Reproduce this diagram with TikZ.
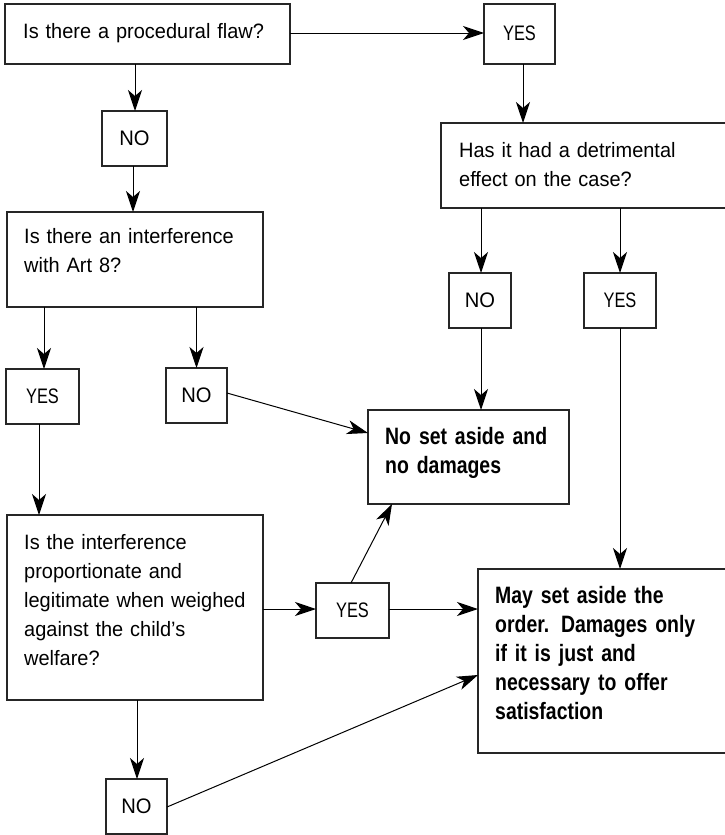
\documentclass[tikz,border=0pt]{standalone}
\usepackage{fontspec}
\setmainfont{Liberation Sans}
\newfontfamily\regcond[FakeStretch=0.96]{Liberation Sans}
\newfontfamily\capcond[FakeStretch=0.78]{Liberation Sans}
\newfontfamily\bfcond[FakeStretch=0.82]{Liberation Sans}
\usetikzlibrary{arrows.meta,calc}
\tikzset{
  box/.style={draw=black!85, line width=1.2pt, inner sep=0pt, outer sep=0pt},
  ylbl/.style={inner sep=0pt, font=\capcond\fontsize{21}{29}\selectfont},
  nlbl/.style={inner sep=0pt, font=\regcond\fontsize{21}{29}\selectfont},
  txt/.style={inner sep=0pt, anchor=base west, align=left, text width=250pt, font=\regcond\fontsize{20.8}{29}\selectfont},
  btxt/.style={inner sep=0pt, anchor=base west, align=left, text width=230pt, font=\bfcond\bfseries\fontsize{23.7}{29.2}\selectfont},
  arr/.style={line width=1pt, -{Stealth[length=21pt, width=14pt, inset=6pt]}}
}
\newcommand{\up}[1]{\raisebox{1.5pt}{#1}}
\begin{document}
\begin{tikzpicture}[x=1pt,y=-1pt]
\useasboundingbox (0,0) rectangle (724,835);
% boxes
\node[box, minimum width=285pt, minimum height=60pt] (A) at (147.5,34) {};
\node[box, ylbl, minimum width=71pt, minimum height=60pt] (Y1) at (519.5,34) {\up{YES}};
\node[box, nlbl, minimum width=65pt, minimum height=55pt] (N1) at (134.5,138.5) {NO};
\node[box, minimum width=256pt, minimum height=95pt] (B) at (135,259.5) {};
\node[box, minimum width=285pt, minimum height=85pt] (D) at (583.5,165.5) {};
\node[box, ylbl, minimum width=73pt, minimum height=55pt] (Y2) at (42.5,396.5) {\up{YES}};
\node[box, nlbl, minimum width=61pt, minimum height=55pt] (N2) at (196.5,395.5) {NO};
\node[box, nlbl, minimum width=62pt, minimum height=55pt] (N4) at (480,300.5) {NO};
\node[box, ylbl, minimum width=72pt, minimum height=55pt] (Y4) at (620,300.5) {\up{YES}};
\node[box, minimum width=201pt, minimum height=94pt] (E) at (468.5,457) {};
\node[box, minimum width=256pt, minimum height=185pt] (C) at (135,607.5) {};
\node[box, ylbl, minimum width=73pt, minimum height=55pt] (Y3) at (352.5,610.5) {\up{YES}};
\node[box, minimum width=248pt, minimum height=184pt] (F) at (602,661) {};
\node[box, nlbl, minimum width=61pt, minimum height=55pt] (N3) at (136.5,806.5) {NO};
% texts
\node[txt] (At) at ($(A.north west)+(18,34)$) {Is there a procedural flaw?};
\node[txt] (Bt) at ($(B.north west)+(17,31)$) {Is there an interference\\with Art 8?};
\node[txt] (Dt) at ($(D.north west)+(18,34)$) {Has it had a detrimental\\effect on the case?};
\node[btxt] (Et) at ($(E.north west)+(17,34)$) {No set aside and\\no damages};
\node[txt] (Ct) at ($(C.north west)+(17,34)$) {Is the interference\\proportionate and\\legitimate when weighed\\against the child’s\\welfare?};
\node[btxt] (Ft) at ($(F.north west)+(17,34)$) {May set aside the\\order. Damages only\\if it is just and\\necessary to offer\\satisfaction};
% connectors
\draw[arr] (A.east |- 0,33) -- (Y1.west |- 0,33);
\draw[arr] (A.south -| 135,0) -- (N1.north -| 135,0);
\draw[arr] (N1.south -| 133,0) -- (B.north -| 133,0);
\draw[arr] (Y1.south -| 523,0) -- (D.north -| 523,0);
\draw[arr] (B.south -| 44,0) -- (Y2.north -| 44,0);
\draw[arr] (B.south -| N2.north) -- (N2.north);
\draw[arr] (Y2.south -| 39,0) -- (C.north -| 39,0);
\draw[arr] (D.south -| 481,0) -- (N4.north -| 481,0);
\draw[arr] (D.south -| Y4.north) -- (Y4.north);
\draw[arr] (N4.south -| 481,0) -- (E.north -| 481,0);
\draw[arr] (Y4.south) -- (F.north -| Y4.south);
\draw[arr] ($(N2.north east)+(0,25)$) -- ($(E.north west)+(0,23)$);
\draw[arr] (C.east |- 0,609) -- (Y3.west |- 0,609);
\draw[arr] ($(Y3.north west)+(35,0)$) -- ($(E.south west)+(24,0)$);
\draw[arr] (Y3.east |- 0,609) -- (F.west |- 0,609);
\draw[arr] (C.south -| 137,0) -- (N3.north -| 137,0);
\draw[arr] ($(N3.north east)+(0,28)$) -- ($(F.north west)+(0,106)$);
\end{tikzpicture}
\end{document}
